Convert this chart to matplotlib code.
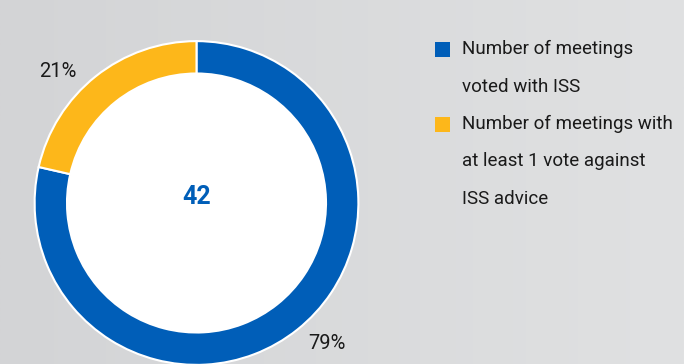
"""Donut chart - meetings voted with / against ISS advice."""
import numpy as np
import matplotlib
matplotlib.use("Agg")
import matplotlib.pyplot as plt
from matplotlib.patches import Rectangle, Circle

plt.rcParams["font.family"] = ["Roboto", "DejaVu Sans"]

# data
categories = ["Number of meetings\nvoted with ISS",
              "Number of meetings with\nat least 1 vote against\nISS advice"]
values = [33, 9]
pct_labels = ["79%", "21%"]
total_label = "42"

BLUE = "#005eb8"
YELLOW = "#fdb71a"
TEXT = "#1a1a1a"

W, H = 684, 364
fig = plt.figure(figsize=(W / 100, H / 100), dpi=100)

# soft horizontal grey gradient background
bg = fig.add_axes([0, 0, 1, 1])
grad = np.linspace(0, 1, 256)[None, :]
bg.imshow(grad, aspect="auto", cmap=matplotlib.colors.LinearSegmentedColormap.from_list(
    "bg", ["#d3d4d6", "#e0e1e2"]), extent=[0, 1, 0, 1])
bg.set_axis_off()

# donut axes, placed in pixels
cx, cy, r = 196.5, 203, 163.5
ax = fig.add_axes([(cx - r) / W, (H - cy - r) / H, 2 * r / W, 2 * r / H])
wedges, _ = ax.pie(values, colors=[BLUE, YELLOW], startangle=90, counterclock=False,
                   radius=1, wedgeprops=dict(width=0.2, edgecolor="white", linewidth=1.5))
ax.add_patch(Circle((0, 0), 0.8, facecolor="white", edgecolor="none", zorder=0))
ax.set_xlim(-1.01, 1.01)
ax.set_ylim(-1.01, 1.01)
ax.set_aspect("equal")
ax.set_axis_off()

ax.text(0, 0.04, total_label, ha="center", va="center", fontsize=18,
        fontweight="bold", color=BLUE)
# percentage labels outside the ring
pct_pos = [(0.805, -0.865), (-0.855, 0.81)]
for (x, y), lab in zip(pct_pos, pct_labels):
    ax.text(x, y, lab, ha="center", va="center", fontsize=14.5, color=TEXT)

# legend drawn by hand
sq = 15
line_pitch = 37.5
y0 = 49
line = 0
for col, label in zip([BLUE, YELLOW], categories):
    yc = y0 + line * line_pitch
    fig.patches.append(Rectangle((435 / W, 1 - (yc + sq / 2) / H), sq / W, sq / H,
                                 transform=fig.transFigure, facecolor=col, edgecolor="none"))
    for part in label.split("\n"):
        fig.text(462 / W, 1 - (y0 + line * line_pitch) / H, part, ha="left", va="center",
                 fontsize=13.5, color=TEXT)
        line += 1

fig.savefig("out.png", dpi=100)
